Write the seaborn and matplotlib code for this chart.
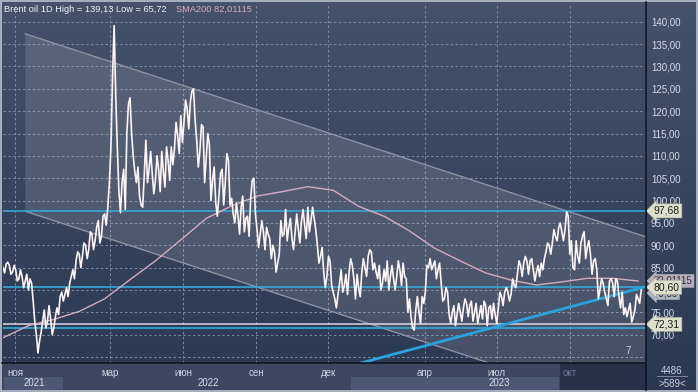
import numpy as np
import pandas as pd
import seaborn as sns
import matplotlib.pyplot as plt
import matplotlib.dates as mdates
import matplotlib.transforms as mtransforms
from matplotlib.colors import LinearSegmentedColormap
from matplotlib.patches import Rectangle, Polygon

plt.rcParams['font.family'] = ['Liberation Sans', 'DejaVu Sans']

# Brent close, one value every 4 days starting 2021-10-17
price = [85.0, 85.8, 85.5, 84.0, 84.5, 82.5, 83.0, 82.0, 80.0, 81.5,
         73.0, 65.9, 70.5, 75.5, 73.0, 73.5, 71.5, 76.0, 78.5, 77.5,
         80.5, 81.5, 84.5, 86.5, 88.0, 87.5, 90.0, 89.0, 92.5, 91.0,
         95.5, 92.0, 97.0, 98.5, 112.0, 139.13, 112.0, 97.3, 107.0, 115.0,
         123.0, 110.0, 104.0, 101.0, 98.5, 113.5, 107.0, 106.0, 104.5, 107.0,
         111.0, 103.0, 109.0, 112.0, 111.5, 114.5, 119.0, 117.5, 120.5, 122.0,
         125.0, 113.5, 111.0, 116.5, 109.5, 112.5, 104.5, 99.5, 101.0, 107.0,
         104.0, 109.0, 100.5, 95.0, 96.5, 98.5, 93.0, 96.5, 100.5, 105.0,
         93.5, 92.5, 93.0, 94.0, 91.5, 90.0, 84.0, 88.0, 92.0, 98.0,
         94.0, 91.5, 93.0, 93.5, 95.5, 94.5, 98.5, 95.5, 96.0, 90.0,
         87.5, 84.0, 83.0, 86.5, 79.5, 76.0, 81.5, 79.5, 83.5, 84.0,
         85.5, 78.0, 80.5, 84.0, 85.0, 87.5, 88.5, 86.0, 82.5, 80.0,
         84.5, 86.5, 83.0, 82.5, 83.0, 84.5, 86.0, 82.5, 78.0, 71.5,
         75.5, 75.0, 78.5, 79.5, 85.0, 84.5, 86.5, 84.5, 81.5, 78.0,
         79.5, 72.5, 76.5, 74.5, 75.0, 76.0, 77.0, 76.5, 73.0, 77.0,
         74.5, 73.5, 76.5, 76.0, 73.5, 74.5, 76.0, 78.5, 79.5, 79.5,
         79.0, 81.0, 83.5, 85.5, 86.0, 86.5, 86.5, 84.5, 84.0, 83.0,
         84.5, 88.5, 90.0, 90.5, 92.0, 94.0, 93.0, 93.5, 96.5, 91.0,
         84.5, 87.5, 90.5, 93.0, 89.5, 88.0, 86.5, 84.5, 80.0, 81.5,
         78.0, 82.0, 81.5, 82.5, 78.5, 79.5, 76.0, 75.5, 72.8, 75.5,
         78.0, 80.0]

# in-between closes (2 days after each value above)
price_mid = [83.8, 86.2, 83.5, 85.5, 82.0, 84.5, 80.5, 83.5, 82.5, 77.5,
             70.0, 68.5, 73.0, 71.5, 76.5, 70.0, 74.0, 74.5, 79.5, 79.0,
             78.5, 83.0, 82.5, 88.5, 85.0, 90.5, 87.0, 93.0, 89.0, 94.0,
             90.5, 96.5, 94.5, 104.0, 128.0, 123.5, 102.0, 104.0, 98.0, 121.5,
             115.0, 106.5, 107.5, 99.0, 106.0, 104.0, 111.0, 101.5, 110.0, 102.0,
             106.5, 112.0, 104.5, 108.0, 117.5, 110.5, 113.0, 122.5, 116.0, 124.5,
             118.0, 107.5, 117.0, 104.0, 115.0, 100.0, 107.5, 96.5, 106.0, 99.0,
             110.5, 99.0, 97.0, 99.5, 92.5, 101.0, 96.0, 92.0, 104.5, 97.0,
             89.5, 95.5, 89.0, 92.5, 87.0, 88.5, 86.0, 95.5, 92.5, 91.0,
             96.0, 89.0, 97.0, 90.5, 98.0, 91.5, 93.0, 98.5, 93.5, 86.0,
             89.5, 80.5, 87.5, 81.0, 78.0, 79.0, 84.5, 81.0, 79.0, 87.0,
             82.5, 83.5, 78.5, 87.0, 83.0, 89.0, 84.5, 84.0, 85.5, 81.5,
             82.0, 80.0, 85.5, 80.0, 86.5, 81.0, 83.0, 75.0, 74.0, 71.0,
             78.5, 72.5, 77.0, 85.5, 87.0, 85.5, 82.5, 86.0, 77.5, 80.5,
             74.5, 75.0, 72.0, 77.0, 73.0, 78.0, 74.0, 77.5, 75.0, 72.5,
             76.5, 77.5, 72.0, 76.5, 77.0, 72.5, 79.5, 76.5, 80.5, 77.5,
             82.5, 80.5, 86.5, 83.0, 87.5, 83.5, 87.0, 82.0, 85.5, 86.0,
             87.0, 90.5, 88.0, 93.5, 91.0, 95.0, 91.0, 97.5, 88.0, 85.0,
             91.0, 86.0, 92.0, 87.0, 91.0, 83.5, 87.0, 78.0, 82.5, 79.5,
             76.5, 82.5, 78.5, 82.0, 76.0, 74.5, 74.0, 77.0, 74.0, 79.0,
             77.0]

# SMA200, one value every 32 days
sma200 = [69.3, 72.0, 73.4, 75.2, 78.0, 82.3, 86.5, 91.2, 96.0, 98.8,
          101.0, 102.0, 103.1, 102.3, 98.7, 96.5, 93.2, 89.3, 86.5, 83.8,
          82.2, 81.1, 81.8, 82.6, 82.6, 82.0]

# descending channel and rising trend line (start / end)
channel_dates = ['2021-11-14', '2024-01-08']
channel_top = [137.3, 91.7]
channel_bottom = [97.6, 52.0]
trend_dates = ['2023-01-12', '2024-01-08']
trend_vals = [63.7, 80.9]

levels_cyan = [97.68, 80.60, 71.45]
level_grey = 72.31
level_labels = ['97,68', '80,60', '72,31']

month_dates = ['2021-11-01', '2022-03-01', '2022-06-01', '2022-09-01',
               '2022-12-01', '2023-04-01', '2023-07-01', '2023-10-01']
month_names = ['ноя', 'мар', 'июн', 'сен', 'дек', 'апр', 'июл', 'окт']

closes = [v for pair in zip(price[:-1], price_mid) for v in pair] + [price[-1]]
df = pd.DataFrame({'date': pd.date_range('2021-10-17', periods=len(closes), freq='2D'),
                   'close': closes})
sma_df = pd.DataFrame({'date': pd.date_range('2021-10-17', periods=len(sma200), freq='32D'),
                       'sma': sma200})

W, H = 698, 392
fig = plt.figure(figsize=(W / 100, H / 100), dpi=100, facecolor='#a4aebc')


def fr(x0, y0, x1, y1):
    # pixel box (top-left origin) -> figure fraction rect
    return [x0 / W, 1 - y1 / H, (x1 - x0) / W, (y1 - y0) / H]


# background panel with vertical gradient
bg = fig.add_axes(fr(2, 2, 696, 390))
bg.set_zorder(-3)
bg.set_axis_off()
cmap = LinearSegmentedColormap.from_list('bg', ['#2b3852', '#45526b'])
grad = np.linspace(0, 1, 256).reshape(-1, 1)
bg.imshow(grad, aspect='auto', cmap=cmap, origin='lower', extent=[0, 1, 0, 1])
bg.set_xlim(0, 1)
bg.set_ylim(0, 1)

# bottom time band
band = [((2, 2), 644, 27, '#3c4862'), ((4, 2), 59, 13, '#4b5873'),
        ((351, 2), 208, 13, '#4b5873'), ((560, 2), 86, 27, '#27324a')]
for (bx, by), bw, bh, c in band:
    fig.patches.append(Rectangle((bx / W, by / H), bw / W, bh / H, transform=fig.transFigure,
                                 fc=c, ec='none', zorder=-2))

ax = fig.add_axes(fr(3, 3, 646, 363))
ax.set_zorder(1)
ax.set_facecolor('none')

y0, y1 = 63.65, 144.2
x0, x1 = pd.Timestamp('2021-10-17'), pd.Timestamp('2024-01-05')
ax.set_xlim(x0, x1)
ax.set_ylim(y0, y1)

# grid
grid_kw = dict(color='#7d8aa2', lw=0.7, dashes=(2.5, 2.5), zorder=1)
for v in range(65, 141, 5):
    ax.axhline(v, **grid_kw)
for d in month_dates:
    ax.axvline(pd.Timestamp(d), **grid_kw)
ax.axvline(x1 - pd.Timedelta(days=1), **grid_kw)

# channel
cd = mdates.date2num(pd.to_datetime(channel_dates))
poly = Polygon([(cd[0], channel_top[0]), (cd[1], channel_top[1]),
                (cd[1], channel_bottom[1]), (cd[0], channel_bottom[0])],
               closed=True, fc='white', alpha=0.12, ec='none', zorder=1.5)
ax.add_patch(poly)
ax.plot(cd, channel_top, color='#8d929e', lw=1.0, zorder=2)
ax.plot(cd, channel_bottom, color='#8d929e', lw=1.0, zorder=2)

# horizontal levels
for v in levels_cyan:
    ax.axhline(v, color='#33a9d9', lw=1.2, zorder=2.2)
ax.axhline(level_grey, color='#c9cdd6', lw=1.2, zorder=2.2)

# trend line
td = mdates.date2num(pd.to_datetime(trend_dates))
ax.plot(td, trend_vals, color='#2aa2de', lw=2.0, zorder=2.4)

# SMA and price
sns.lineplot(data=sma_df, x='date', y='sma', ax=ax, color='#d9aabd', lw=1.0, zorder=3)
sns.lineplot(data=df, x='date', y='close', ax=ax, color='#fff3f3', lw=1.2, zorder=4)

ax.set_xlabel('')
ax.set_ylabel('')
for s in ax.spines.values():
    s.set_visible(False)

# y ticks on the right
ax.yaxis.tick_right()
ticks = list(range(70, 141, 5))
ax.set_yticks(ticks)
ax.set_yticklabels([f'{t:.2f}'.replace('.', ',') for t in ticks])
ax.tick_params(axis='y', length=0, pad=3.5, labelsize=7, labelcolor='#d4dbe6')
ax.set_xticks([])

# month and year labels
bt = mtransforms.blended_transform_factory(ax.transData, ax.transAxes)
for d, n in zip(month_dates, month_names):
    col = '#6c7891' if n == 'окт' else '#cdd4df'
    ax.text(pd.Timestamp(d), -0.027, n, transform=bt, ha='center', va='center',
            fontsize=7, color=col, clip_on=False)
for xp, yr in [(34, '2021'), (208, '2022'), (499, '2023')]:
    fig.text(xp / W, 1 - 383 / H, yr, ha='center', va='center', fontsize=7, color='#d6dce6')

# separator lines
fig.add_artist(plt.Line2D([646 / W, 646 / W], [2 / H, 1 - 2 / H], transform=fig.transFigure,
                          color='#10151f', lw=1.2, zorder=5))
fig.add_artist(plt.Line2D([2 / W, 646 / W], [1 - 363 / H, 1 - 363 / H], transform=fig.transFigure,
                          color='#10151f', lw=1.2, zorder=5))
fig.add_artist(plt.Line2D([657 / W, 687 / W], [1 - 376 / H, 1 - 376 / H], transform=fig.transFigure,
                          color='#8994a8', lw=0.6))
fig.text(672 / W, 1 - 371 / H, '4486', ha='center', va='center', fontsize=7, color='#c8d0dc')
fig.text(672 / W, 1 - 384 / H, '>589<', ha='center', va='center', fontsize=7, color='#c8d0dc')

# right-side value tags
rt = mtransforms.blended_transform_factory(ax.transAxes, ax.transData)
ax.text(1.012, 82.01, '82,01115', transform=rt, ha='left', va='center', fontsize=7,
        color='#303040', clip_on=False, zorder=5,
        bbox=dict(boxstyle='larrow,pad=0.18', fc='#b9aebb', ec='none'))
ax.text(1.012, 79.3, '79,50', transform=rt, ha='left', va='center', fontsize=7,
        color='#303040', clip_on=False, zorder=5,
        bbox=dict(boxstyle='larrow,pad=0.18', fc='#aeb4c0', ec='none'))
for v, lab in zip([97.68, 80.60, 72.31], level_labels):
    ax.text(1.012, v, lab, transform=rt, ha='left', va='center', fontsize=7.5,
            color='#1c1c1c', clip_on=False, zorder=6,
            bbox=dict(boxstyle='larrow,pad=0.2', fc='#dfe0cc', ec='#9c9c8c', lw=0.4))

ax.text(0.972, 0.02, '7', transform=ax.transAxes, ha='center', va='bottom', fontsize=7,
        color='#cdd4df')

# header
fig.text(4 / W, 1 - 9 / H, 'Brent oil 1D High = 139,13 Low = 65,72', ha='left', va='center',
         fontsize=6.7, color='#eef1f5')
fig.text(176 / W, 1 - 9 / H, 'SMA200 82,01115', ha='left', va='center',
         fontsize=6.7, color='#e2a9c0')

fig.savefig('out.png', dpi=100, facecolor=fig.get_facecolor())
